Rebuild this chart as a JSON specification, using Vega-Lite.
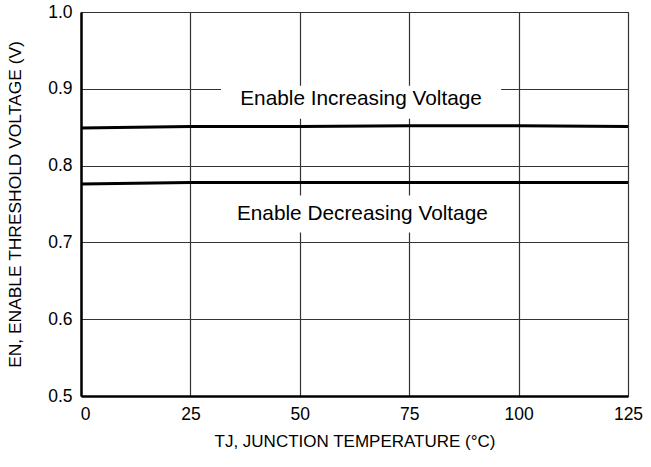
{
  "$schema": "https://vega.github.io/schema/vega-lite/v6.json",
  "autosize": {"type": "none"},
  "padding": {"left": 81, "top": 12, "right": 23, "bottom": 71},
  "width": 547,
  "height": 384,
  "background": "white",
  "config": {
    "view": {"stroke": "black", "strokeWidth": 1},
    "font": "Liberation Sans",
    "axis": {
      "labelFont": "Liberation Sans",
      "titleFont": "Liberation Sans",
      "labelFontSize": 17.5,
      "titleFontSize": 17,
      "labelColor": "black",
      "titleColor": "black",
      "titleFontWeight": "normal",
      "ticks": false,
      "gridColor": "#333333",
      "gridWidth": 1.2,
      "gridOpacity": 1,
      "domainColor": "black",
      "domainWidth": 2.5
    }
  },
  "data": {
    "values": [
      {"temp": 0, "v": 0.849, "series": "Enable Increasing Voltage"},
      {"temp": 25, "v": 0.851, "series": "Enable Increasing Voltage"},
      {"temp": 50, "v": 0.851, "series": "Enable Increasing Voltage"},
      {"temp": 75, "v": 0.852, "series": "Enable Increasing Voltage"},
      {"temp": 100, "v": 0.852, "series": "Enable Increasing Voltage"},
      {"temp": 125, "v": 0.851, "series": "Enable Increasing Voltage"},
      {"temp": 0, "v": 0.776, "series": "Enable Decreasing Voltage"},
      {"temp": 25, "v": 0.778, "series": "Enable Decreasing Voltage"},
      {"temp": 50, "v": 0.778, "series": "Enable Decreasing Voltage"},
      {"temp": 75, "v": 0.778, "series": "Enable Decreasing Voltage"},
      {"temp": 100, "v": 0.778, "series": "Enable Decreasing Voltage"},
      {"temp": 125, "v": 0.778, "series": "Enable Decreasing Voltage"}
    ]
  },
  "layer": [
    {
      "mark": {"type": "line", "color": "black", "strokeWidth": 3, "clip": true},
      "encoding": {
        "x": {
          "field": "temp", "type": "quantitative",
          "scale": {"domain": [0, 125], "nice": false},
          "axis": {"values": [0, 25, 50, 75, 100, 125], "title": "TJ, JUNCTION TEMPERATURE (°C)", "labelPadding": 9, "titlePadding": 11, "labelFlush": false, "labelOffset": {"expr": "datum.value == 0 ? 4 : 0"}}
        },
        "y": {
          "field": "v", "type": "quantitative",
          "scale": {"domain": [0.5, 1.0], "nice": false, "zero": false},
          "axis": {"values": [0.5, 0.6, 0.7, 0.8, 0.9, 1.0], "format": ".1f", "title": "EN, ENABLE THRESHOLD VOLTAGE (V)", "labelPadding": 9, "titlePadding": 23, "titleFontSize": 17.4}
        },
        "detail": {"field": "series"}
      }
    },
    {
      "data": {"values": [
        {"label": "Enable Increasing Voltage", "x0": 32, "x1": 96, "y0": 0.861, "y1": 0.9039, "tx": 64, "ty": 0.887},
        {"label": "Enable Decreasing Voltage", "x0": 32, "x1": 97, "y0": 0.713, "y1": 0.761, "tx": 64.3, "ty": 0.737}
      ]},
      "layer": [
        {
          "mark": {"type": "rect", "fill": "white"},
          "encoding": {
            "x": {"field": "x0", "type": "quantitative"},
            "x2": {"field": "x1"},
            "y": {"field": "y0", "type": "quantitative"},
            "y2": {"field": "y1"}
          }
        },
        {
          "mark": {"type": "text", "font": "Liberation Sans", "fontSize": 20.8, "color": "black", "align": "center", "baseline": "middle"},
          "encoding": {
            "x": {"field": "tx", "type": "quantitative"},
            "y": {"field": "ty", "type": "quantitative"},
            "text": {"field": "label"}
          }
        }
      ]
    }
  ]
}
